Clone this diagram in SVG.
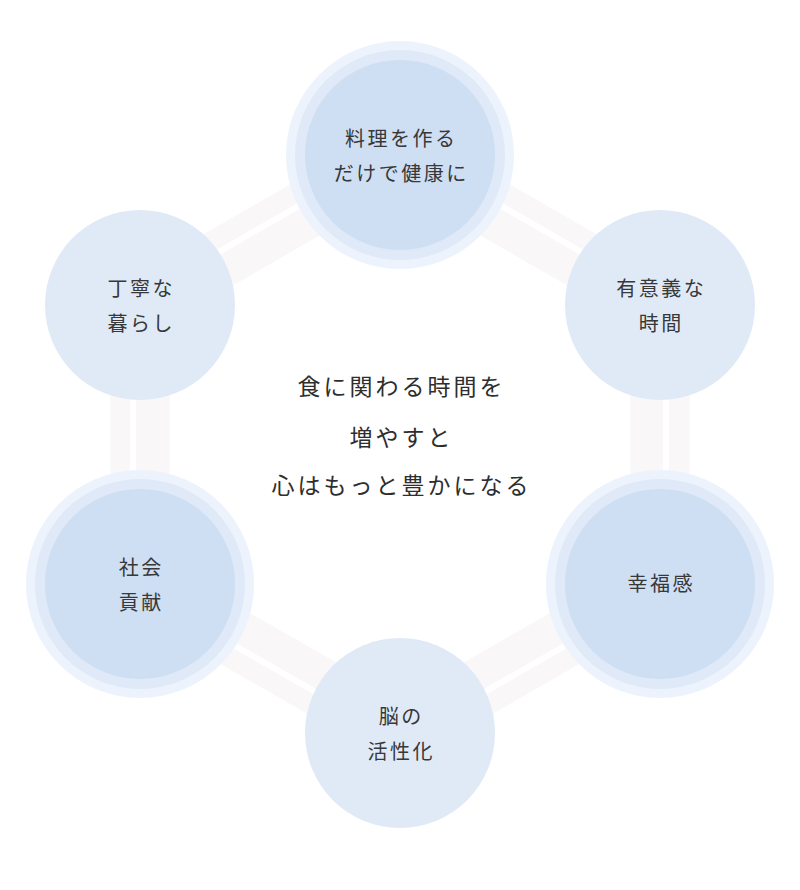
<svg xmlns="http://www.w3.org/2000/svg" width="800" height="890" viewBox="0 0 800 890">
<style>
  .band { stroke: #faf7f8; stroke-width: 59; fill: none; }
  .gap { stroke: #ffffff; stroke-width: 6; fill: none; }
  .plain { fill: #e0eaf7; }
  .halo3 { fill: #ecf3fc; }
  .halo2 { fill: #dfe9f7; }
  .halo1 { fill: #cedff3; }
  .lbl { font-family: "Noto Sans CJK JP", "Noto Sans", sans-serif; font-size: 20px; letter-spacing: 2.5px; fill: #383838; text-anchor: middle; }
  .ctr { font-family: "Noto Sans CJK JP", "Noto Sans", sans-serif; font-size: 23px; letter-spacing: 3px; fill: #2e2e2e; text-anchor: middle; }
</style>
<rect width="800" height="890" fill="#ffffff"/>
<g id="connectors">
  <line class="band" x1="140" y1="305" x2="400" y2="155"/>
  <line class="band" x1="400" y1="155" x2="660" y2="305"/>
  <line class="band" x1="660" y1="305" x2="660" y2="584"/>
  <line class="band" x1="660" y1="584" x2="400" y2="733"/>
  <line class="band" x1="400" y1="733" x2="140" y2="584"/>
  <line class="band" x1="140" y1="584" x2="140" y2="305"/>
  <line class="gap" x1="136.75" y1="299.37" x2="396.75" y2="149.37"/>
  <line class="gap" x1="403.25" y1="149.37" x2="663.25" y2="299.37"/>
  <line class="gap" x1="666" y1="305" x2="666" y2="584"/>
  <line class="gap" x1="663.25" y1="589.63" x2="403.25" y2="738.63"/>
  <line class="gap" x1="396.75" y1="738.63" x2="136.75" y2="589.63"/>
  <line class="gap" x1="133" y1="584" x2="133" y2="305"/>
</g>
<g id="node-top">
  <circle class="halo3" cx="400" cy="155" r="114"/>
  <circle class="halo2" cx="400" cy="155" r="105"/>
  <circle class="halo1" cx="400" cy="155" r="95"/>
  <text class="lbl" x="401.25" y="146">料理を作る</text>
  <text class="lbl" x="401.25" y="181">だけで健康に</text>
</g>
<g id="node-upper-right">
  <circle class="plain" cx="660" cy="305" r="95"/>
  <text class="lbl" x="661.25" y="296">有意義な</text>
  <text class="lbl" x="661.25" y="331">時間</text>
</g>
<g id="node-lower-right">
  <circle class="halo3" cx="660" cy="584" r="114"/>
  <circle class="halo2" cx="660" cy="584" r="105"/>
  <circle class="halo1" cx="660" cy="584" r="95"/>
  <text class="lbl" x="661.25" y="591">幸福感</text>
</g>
<g id="node-bottom">
  <circle class="plain" cx="400" cy="733" r="95"/>
  <text class="lbl" x="401.25" y="724">脳の</text>
  <text class="lbl" x="401.25" y="759">活性化</text>
</g>
<g id="node-lower-left">
  <circle class="halo3" cx="140" cy="584" r="114"/>
  <circle class="halo2" cx="140" cy="584" r="105"/>
  <circle class="halo1" cx="140" cy="584" r="95"/>
  <text class="lbl" x="141.25" y="575">社会</text>
  <text class="lbl" x="141.25" y="610">貢献</text>
</g>
<g id="node-upper-left">
  <circle class="plain" cx="140" cy="305" r="95"/>
  <text class="lbl" x="141.25" y="296">丁寧な</text>
  <text class="lbl" x="141.25" y="331">暮らし</text>
</g>
<g id="center-text">
  <text class="ctr" x="401.5" y="395">食に関わる時間を</text>
  <text class="ctr" x="401.5" y="446">増やすと</text>
  <text class="ctr" x="401.5" y="494">心はもっと豊かになる</text>
</g>
</svg>
